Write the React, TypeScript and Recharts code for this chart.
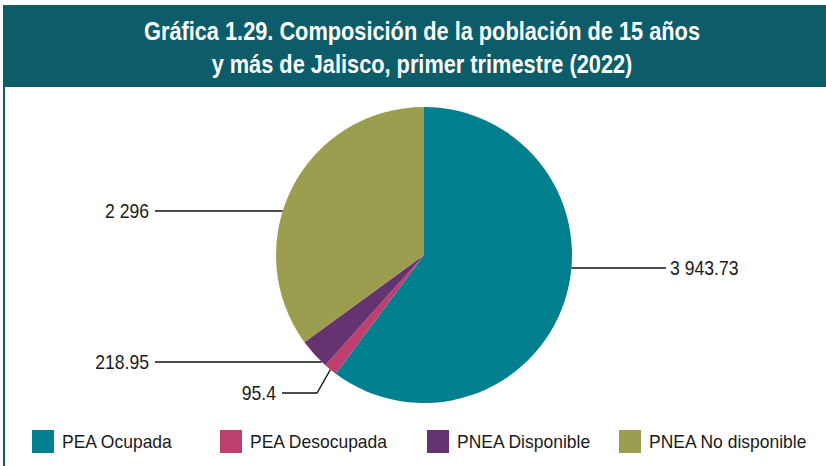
import { PieChart, Pie, Cell, Legend } from 'recharts';

const CATEGORIES = ['PEA Ocupada', 'PEA Desocupada', 'PNEA Disponible', 'PNEA No disponible'];
const VALUES = [3943.73, 95.4, 218.95, 2296];
const VALUE_LABELS = ['3 943.73', '95.4', '218.95', '2 296'];
const COLORS = ['#00808f', '#bd3f6e', '#65336f', '#9b9e4f'];

const TITLE_LINES = ['Gráfica 1.29. Composición de la población de 15 años', 'y más de Jalisco, primer trimestre (2022)'];

const FONT = '"Liberation Sans", Arial, sans-serif';
const HEADER_BG = '#0c5c6a';

// where each callout line ends, relative to the pie centre
const CALLOUTS = [
  { dy: 13, endDx: 242 },
  { elbow: { dx: -107, dy: 138 }, endDx: -142 },
  { dy: 107, endDx: -269 },
  { dy: -44, endDx: -269 },
];

const LEGEND_X = [32, 220, 427, 619];

const data = CATEGORIES.map((name, i) => ({ name, value: VALUES[i] }));

const RADIAN = Math.PI / 180;

function renderLabel(props: any) {
  const { cx, cy, outerRadius, midAngle, index } = props;
  const c = CALLOUTS[index];
  const text = VALUE_LABELS[index];
  let path = '';
  const endX = cx + c.endDx;
  let endY = 0;
  if (c.elbow) {
    const sx = cx + outerRadius * Math.cos(-midAngle * RADIAN);
    const sy = cy + outerRadius * Math.sin(-midAngle * RADIAN);
    endY = cy + c.elbow.dy;
    path = `M${sx},${sy} L${cx + c.elbow.dx},${endY} L${endX},${endY}`;
  } else {
    const dy = c.dy as number;
    const half = Math.sqrt(outerRadius * outerRadius - dy * dy);
    const sx = c.endDx > 0 ? cx + half : cx - half;
    endY = cy + dy;
    path = `M${sx},${endY} L${endX},${endY}`;
  }
  const right = c.endDx > 0;
  const tx = right ? endX + 4 : endX - 6;
  return (
    <g>
      <path d={path} stroke="#111" strokeWidth={1.3} fill="none" />
      <text
        transform={`translate(${tx},${endY}) scale(0.88,1)`}
        x={0}
        y={0}
        textAnchor={right ? 'start' : 'end'}
        dominantBaseline="central"
        fontFamily={FONT}
        fontSize={20}
        fill="#1a1a1a"
      >
        {text}
      </text>
    </g>
  );
}

function LegendContent() {
  return (
    <div style={{ position: 'relative', fontFamily: FONT, fontSize: 19, color: '#1a1a1a', height: 23 }}>
      {CATEGORIES.map((name, i) => (
        <div
          key={name}
          style={{ display: 'flex', alignItems: 'center', position: 'absolute', top: 0, left: LEGEND_X[i] }}
        >
          <span style={{ width: 22, height: 23, background: COLORS[i], display: 'inline-block', marginRight: 8 }} />
          <span style={{ display: 'inline-block', transform: 'scaleX(0.92)', transformOrigin: 'left center', whiteSpace: 'nowrap' }}>
            {name}
          </span>
        </div>
      ))}
    </div>
  );
}

export default function App() {
  return (
    <div style={{ position: 'fixed', left: 0, top: 0, width: 826, height: 466, background: '#fff', overflow: 'hidden' }}>
      <div
        style={{
          position: 'absolute',
          left: 3,
          top: 5,
          width: 823,
          height: 82,
          background: HEADER_BG,
        }}
      />
      <div
        style={{
          position: 'absolute',
          left: 422 - 400,
          top: 15,
          width: 800,
          color: '#fff',
          fontFamily: FONT,
          fontWeight: 'bold',
          fontSize: 25,
          textAlign: 'center',
          lineHeight: '33px',
          transform: 'scaleX(0.87)',
          transformOrigin: 'center center',
        }}
      >
        {TITLE_LINES.map((t) => (
          <div key={t}>{t}</div>
        ))}
      </div>
      <div style={{ position: 'absolute', left: 3, top: 87, width: 2, height: 379, background: HEADER_BG }} />
      <div style={{ position: 'absolute', left: 0, top: 0 }}>
        <PieChart width={826} height={466} margin={{ top: 0, right: 0, bottom: 0, left: 0 }}>
          <Pie
            data={data}
            dataKey="value"
            nameKey="name"
            cx={424}
            cy={255}
            outerRadius={148}
            startAngle={90}
            endAngle={-270}
            stroke="none"
            label={renderLabel}
            labelLine={false}
            isAnimationActive={false}
          >
            {data.map((d, i) => (
              <Cell key={d.name} fill={COLORS[i]} />
            ))}
          </Pie>
          <Legend
            content={<LegendContent />}
            wrapperStyle={{ position: 'absolute', left: 0, top: 430, width: 826, height: 23 }}
          />
        </PieChart>
      </div>
    </div>
  );
}
